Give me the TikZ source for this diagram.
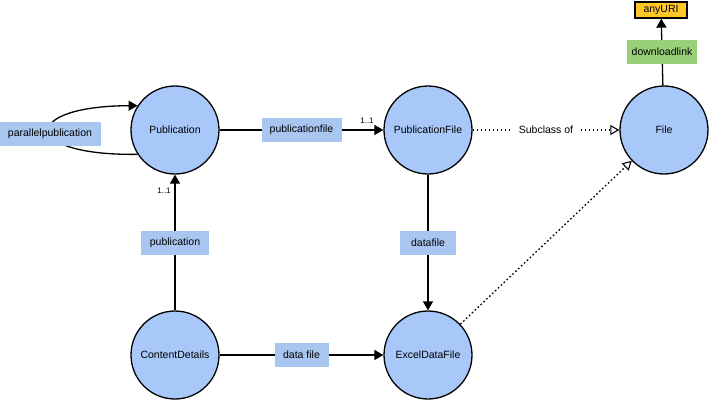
\documentclass[tikz,border=0pt]{standalone}
\usepackage{fontspec}
\setmainfont{Liberation Sans}
\usetikzlibrary{arrows.meta}
\definecolor{circfill}{RGB}{169,200,250}
\definecolor{lblfill}{RGB}{169,198,240}
\definecolor{greenfill}{RGB}{151,208,119}
\definecolor{orangefill}{RGB}{255,200,40}
\begin{document}
\begin{tikzpicture}[x=1pt,y=-1pt,
  cls/.style={circle,draw=black,line width=1.3pt,fill=circfill,minimum size=88pt,inner sep=0pt,font=\fontsize{10.5}{12}\selectfont},
  lbl/.style={fill=lblfill,inner sep=0pt,minimum height=24pt,font=\fontsize{10.5}{12}\selectfont},
  mult/.style={inner sep=0pt,font=\fontsize{8}{9}\selectfont},
  rel/.style={line width=1.3pt,-{Triangle[length=9pt,width=10pt]}},
  sub/.style={line width=1.3pt,dash pattern=on 1.6pt off 2.4pt,-{Triangle[open,length=9pt,width=10pt,line width=1.1pt]}}]
\useasboundingbox (0,0) rectangle (709,400);

% classes
\node[cls] (pub) at (175,130) {Publication};
\node[cls] (pfile) at (428,130) {PublicationFile};
\node[cls] (file) at (664,130) {File};
\node[cls] (cd) at (175,355) {ContentDetails};
\node[cls] (xls) at (428,355) {ExcelDataFile};

% datatype
\node[draw=black,line width=1.3pt,fill=orangefill,minimum width=52pt,minimum height=16pt,inner sep=0pt,font=\fontsize{10.5}{12}\selectfont] (uri) at (661,10) {anyURI};

% self loop
\draw[rel] (pub.213) .. controls (20,156) and (20,106) .. (pub.147);
\node[lbl,minimum width=101pt] (par) at (50,134) {parallelpublication};

% object properties
\draw[rel] (pub) -- node[lbl,minimum width=80pt] (lpf) {publicationfile} (pfile);
\node[mult] (m1) at (367,121) {1..1};
\draw[rel] (cd) -- node[lbl,minimum width=68pt] (lpub) {publication} (pub);
\node[mult] (m2) at (164,191) {1..1};
\draw[rel] (pfile) -- node[lbl,minimum width=56pt] (ldf) {datafile} (xls);
\draw[rel] (cd) -- node[lbl,minimum width=54pt] (ldf2) {data file} (xls);
\draw[rel] (file) -- node[fill=greenfill,inner sep=0pt,minimum width=70pt,minimum height=24pt,font=\fontsize{10.5}{12}\selectfont] (ldl) {downloadlink} (uri);

% subclass relations
\draw[sub] (pfile) -- node[fill=white,inner xsep=8pt,inner ysep=2pt,font=\fontsize{10.5}{12}\selectfont] (lsub) {Subclass of} (file);
\draw[sub] (xls) -- (file);
\end{tikzpicture}
\end{document}
